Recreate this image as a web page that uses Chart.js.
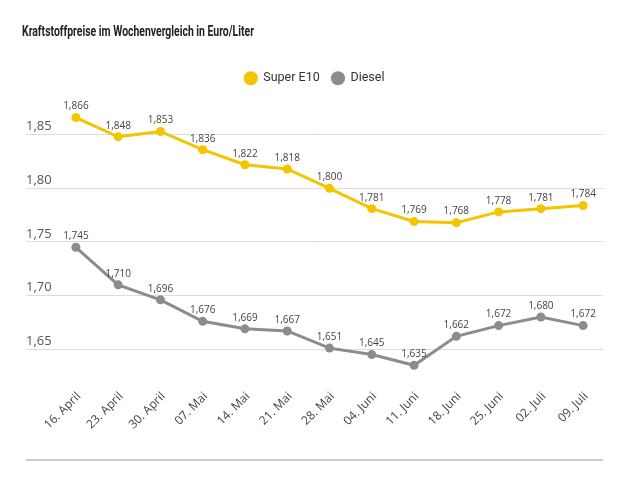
<!DOCTYPE html>
<html>
<head>
<meta charset="utf-8">
<title>Kraftstoffpreise</title>
<script src="https://cdn.jsdelivr.net/npm/chart.js"></script>
<style>
    html, body { margin: 0; padding: 0; background: #fff; }
    .chart-box { width: 640px; height: 480px; position: relative; }
    .chart-title {
        position: absolute;
        left: 22px;
        top: 23px;
        font-family: Roboto, "Liberation Sans", sans-serif;
        font-weight: bold;
        font-size: 14px;
        color: #222;
        white-space: nowrap;
        transform: scaleX(0.745);
        transform-origin: left top;
    }
</style>
</head>
<body>
<div class="chart-box">
    <div class="chart-title">Kraftstoffpreise im Wochenvergleich in Euro/Liter</div>
    <canvas id="fuelChart"></canvas>
</div>
<script>
    // Daten
    const weeks = ['16. April', '23. April', '30. April', '07. Mai', '14. Mai', '21. Mai', '28. Mai',
                   '04. Juni', '11. Juni', '18. Juni', '25. Juni', '02. Juli', '09. Juli'];
    const superE10 = [1.866, 1.848, 1.853, 1.836, 1.822, 1.818, 1.800, 1.781, 1.769, 1.768, 1.778, 1.781, 1.784];
    const diesel = [1.745, 1.710, 1.696, 1.676, 1.669, 1.667, 1.651, 1.645, 1.635, 1.662, 1.672, 1.680, 1.672];
    const yTicks = [1.65, 1.70, 1.75, 1.80, 1.85];

    const YELLOW = '#f5c400';
    const GREY = '#8c8c8c';

    const fmt = v => v.toFixed(3).replace('.', ',');

    // Werte über den Punkten
    const valueLabels = {
        id: 'valueLabels',
        afterDatasetsDraw(chart) {
            const ctx = chart.ctx;
            ctx.save();
            ctx.font = '10px "Open Sans"';
            ctx.fillStyle = '#444';
            ctx.textAlign = 'center';
            ctx.textBaseline = 'bottom';
            chart.data.datasets.forEach((ds, i) => {
                chart.getDatasetMeta(i).data.forEach((pt, j) => {
                    ctx.fillText(fmt(ds.data[j].y), pt.x, pt.y - 6);
                });
            });
            ctx.restore();
        }
    };

    // mehr Abstand unter der Legende
    const legendGap = {
        id: 'legendGap',
        beforeInit(chart) {
            const origFit = chart.legend.fit;
            chart.legend.fit = function () {
                origFit.bind(chart.legend)();
                this.height += 8;
            };
        }
    };

    // Linie unten
    const bottomRule = {
        id: 'bottomRule',
        afterDraw(chart) {
            const ctx = chart.ctx;
            ctx.save();
            ctx.strokeStyle = '#cccccc';
            ctx.lineWidth = 2;
            ctx.beginPath();
            ctx.moveTo(chart.chartArea.left, 460);
            ctx.lineTo(chart.chartArea.right, 460);
            ctx.stroke();
            ctx.restore();
        }
    };

    const toPoints = arr => arr.map((v, i) => ({ x: i, y: v }));

    new Chart(document.getElementById('fuelChart'), {
        type: 'line',
        data: {
            datasets: [
                {
                    label: 'Super E10',
                    data: toPoints(superE10),
                    borderColor: YELLOW,
                    backgroundColor: YELLOW,
                    borderWidth: 3,
                    pointRadius: 4.5,
                    pointBorderWidth: 0,
                    tension: 0
                },
                {
                    label: 'Diesel',
                    data: toPoints(diesel),
                    borderColor: GREY,
                    backgroundColor: GREY,
                    borderWidth: 3,
                    pointRadius: 4.5,
                    pointBorderWidth: 0,
                    tension: 0
                }
            ]
        },
        options: {
            responsive: true,
            maintainAspectRatio: false,
            animation: false,
            layout: { padding: { left: 26, right: 37, top: 60, bottom: 48 } },
            plugins: {
                title: { display: false },
                legend: {
                    position: 'top',
                    labels: {
                        usePointStyle: true,
                        pointStyle: 'circle',
                        boxWidth: 13,
                        boxHeight: 10,
                        color: '#333',
                        font: { family: 'Roboto', size: 12.5 },
                        padding: 12
                    }
                },
                tooltip: { enabled: false }
            },
            scales: {
                x: {
                    type: 'linear',
                    min: -1.18,
                    max: 12.47,
                    grid: { display: false },
                    border: { display: false },
                    afterBuildTicks: scale => {
                        scale.ticks = weeks.map((_, i) => ({ value: i }));
                    },
                    ticks: {
                        callback: v => weeks[v],
                        minRotation: 45,
                        maxRotation: 45,
                        color: '#444',
                        font: { family: '"Open Sans"', size: 12 },
                        padding: 0,
                        labelOffset: 3
                    }
                },
                y: {
                    min: 1.62,
                    max: 1.88,
                    border: { display: false },
                    grid: { color: '#dddddd', lineWidth: 1, drawTicks: false },
                    afterBuildTicks: scale => {
                        scale.ticks = yTicks.map(v => ({ value: v }));
                    },
                    ticks: {
                        mirror: true,
                        padding: 0,
                        labelOffset: -8,
                        color: '#555',
                        font: { family: '"Open Sans"', size: 13 },
                        callback: v => v.toFixed(2).replace('.', ',')
                    }
                }
            }
        },
        plugins: [valueLabels, legendGap, bottomRule]
    });
</script>
</body>
</html>
